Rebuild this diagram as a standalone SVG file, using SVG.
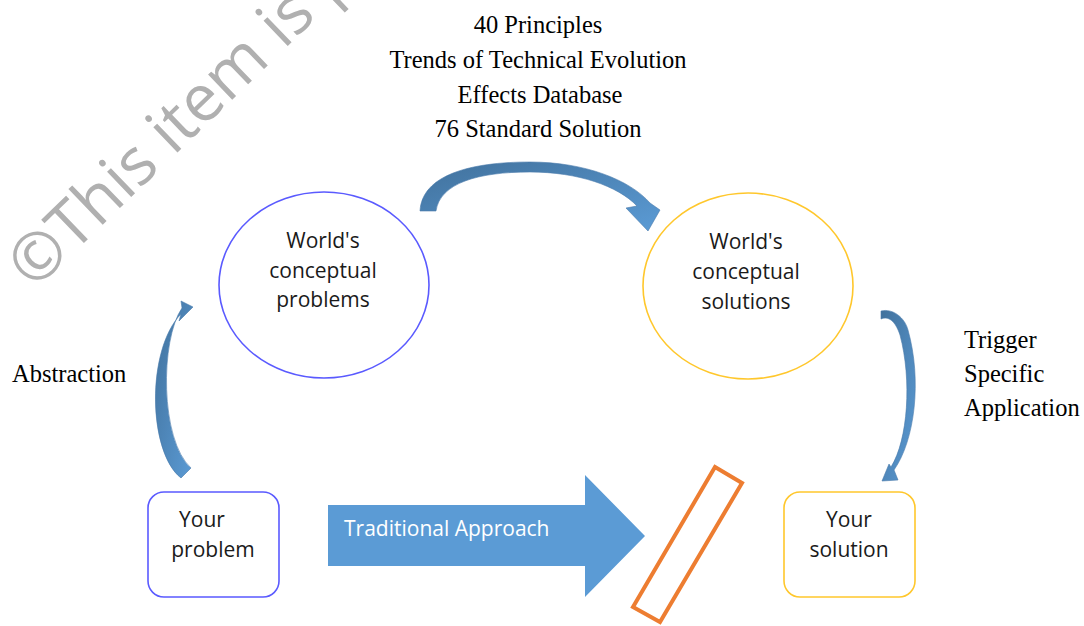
<svg xmlns="http://www.w3.org/2000/svg" width="1084" height="626" viewBox="0 0 1084 626">
  <style>
    .serif { font-family: "Liberation Serif", "Times New Roman", serif; font-size: 24.5px; fill: #000; }
    .sans { font-family: "Open Sans", "Liberation Sans", sans-serif; font-size: 21px; fill: #1a1a1a; }
    .blue { fill: none; stroke: #5a5aff; stroke-width: 1.6; }
    .gold { fill: none; stroke: #ffc72c; stroke-width: 1.6; }
    .bend { fill: url(#bendFill); stroke: #4a7bab; stroke-width: 0.6; }
  </style>
  <defs>
    <linearGradient id="bendFill" x1="0" y1="0" x2="1" y2="1">
      <stop offset="0" stop-color="#41719c"/>
      <stop offset="1" stop-color="#5b9bd5"/>
    </linearGradient>
  </defs>
  <rect width="1084" height="626" fill="#fff"/>

  <!-- watermark -->
  <text x="34" y="291" transform="rotate(-44 34 291)" font-family="Open Sans, Liberation Sans, sans-serif" font-size="65" fill="#b0b0b0">©This item is p</text>

  <!-- tool list -->
  <g id="tools" class="serif" text-anchor="middle">
    <text x="538" y="33">40 Principles</text>
    <text x="538" y="68">Trends of Technical Evolution</text>
    <text x="540" y="103">Effects Database</text>
    <text x="538" y="137">76 Standard Solution</text>
  </g>

  <g id="conceptual-problems">
    <ellipse class="blue" cx="324" cy="285" rx="105" ry="93"/>
    <text class="sans" text-anchor="middle"><tspan x="323" y="248">World's</tspan><tspan x="323" y="278">conceptual</tspan><tspan x="323" y="307">problems</tspan></text>
  </g>

  <g id="conceptual-solutions">
    <ellipse class="gold" cx="748" cy="286" rx="105" ry="93"/>
    <text class="sans" text-anchor="middle"><tspan x="746" y="249">World's</tspan><tspan x="746" y="279">conceptual</tspan><tspan x="746" y="309">solutions</tspan></text>
  </g>

  <g id="your-problem">
    <rect class="blue" x="148" y="492" width="131" height="105" rx="16"/>
    <text class="sans" text-anchor="middle"><tspan x="202" y="527">Your</tspan><tspan x="213" y="557">problem</tspan></text>
  </g>

  <g id="your-solution">
    <rect class="gold" x="784" y="492" width="131" height="105" rx="16"/>
    <text class="sans" text-anchor="middle"><tspan x="849" y="527">Your</tspan><tspan x="849" y="557">solution</tspan></text>
  </g>

  <g id="labels" class="serif">
    <text x="12" y="382">Abstraction</text>
    <text x="964" y="348">Trigger</text>
    <text x="964" y="382">Specific</text>
    <text x="964" y="416">Application</text>
  </g>

  <g id="connectors">
    <!-- problems to solutions -->
    <path class="bend" d="M420,211 C422,175 470,162 530,162 C585,162 630,180 650,203 L660,210 L648,231 L626,208 L637,206 C618,186 578,172 530,172 C478,172 440,183 436,211 Z"/>
    <!-- abstraction -->
    <path class="bend" d="M181,478 C148,452 146,350 181,314 L179,321 L193,307 L181,301 L182,308 C160,340 160,440 191,468 Z"/>
    <!-- trigger specific application -->
    <path class="bend" d="M881,311 C893,308 905,318 908,330 C922,380 915,440 894,470 L898,480 L882,481 L889,464 L891,467 C908,440 912,380 900,335 C895,320 888,316 881,319 Z"/>
    <!-- traditional approach -->
    <g id="traditional-approach">
      <path d="M328,505 L585,505 L585,475 L645,536 L585,597 L585,566 L328,566 Z" fill="#5b9bd5"/>
      <text x="344" y="536" font-family="Open Sans, Liberation Sans, sans-serif" font-size="21" fill="#fff">Traditional Approach</text>
    </g>
    <!-- barrier -->
    <polygon points="715,467 742,483 660,622 633,607" fill="none" stroke="#ed7d31" stroke-width="4"/>
  </g>
</svg>
